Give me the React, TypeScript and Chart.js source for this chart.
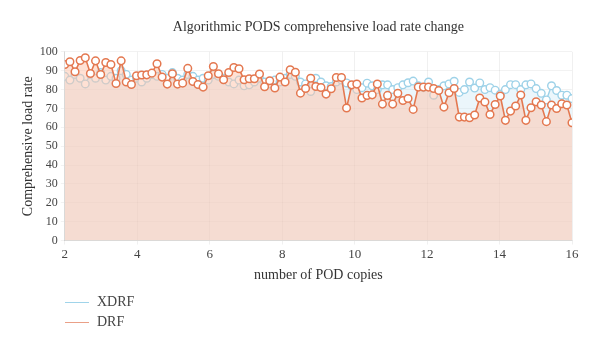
import React, { useEffect, useRef } from "react";
import { Chart, registerables } from "chart.js";

Chart.register(...registerables);

const TITLE = "Algorithmic PODS comprehensive load rate change";
const X_TITLE = "number of POD copies";
const Y_TITLE = "Comprehensive load rate";
const X_MIN = 2;
const X_MAX = 16;
const X_TICKS = [2, 4, 6, 8, 10, 12, 14, 16];
const Y_TICKS = [0, 10, 20, 30, 40, 50, 60, 70, 80, 90, 100];

const DRF = [
  93.3, 94.7, 89.4, 95.4, 96.8, 88.5, 95.2, 88, 94.3, 93.3, 83.2, 95.2, 84, 82.7, 87.3, 87.7,
  87.8, 88.7, 93.7, 86.6, 82.9, 88.4, 82.9, 83.4, 91.2, 84.3, 82.7, 81.3, 87.3, 92.2, 88.4, 85.2, 89,
  91.7, 91, 85.2, 85.7, 85.7, 88.2, 81.5, 84.7, 80.8, 86.6, 84, 90.5, 89.2, 78.1, 80.6, 86,
  81.6, 81.1, 77.6, 80.4, 86.4, 86.4, 70.2, 82.5, 82.9, 75.5, 76.9, 77.2, 82.9, 72.3, 76.9, 72.3, 78,
  74.2, 75.3, 69.5, 81.3, 81.3, 81.3, 80.6, 79.5, 70.7, 78.3, 80.6, 65.4, 65.4, 65.1, 66.5, 75.5,
  73.4, 66.8, 72.1, 76.6, 63.7, 68.6, 71.3, 77.1, 63.7, 70.4, 73.5, 71.8, 63, 71.8, 70, 72.5, 71.8, 62.4,
];

const XDRF = [
  87, 85, 88, 86, 83, 88, 86, 89, 85, 87, 86, 90, 88, 85, 86, 84,
  86, 88, 87, 88, 86, 89, 86, 85, 88, 87, 85, 86, 85, 88, 87, 86, 84,
  83, 85, 82, 82.5, 84, 86, 84, 83, 85, 84, 86, 88, 87, 84, 83, 79,
  86, 84, 82, 81.6, 84, 85, 83.5, 82, 80, 81, 83.4, 82, 80, 82.5, 82.5, 80, 81,
  82.5, 83.6, 84.5, 82, 81, 84, 77, 80, 82, 83, 84.4, 78.5, 80, 84, 80.8, 83.5,
  80, 81, 79.7, 77.5, 80, 82.6, 82.6, 80, 82.5, 83, 80.5, 78, 74.5, 82, 79.5, 77, 77, 75.2,
];

const FONT = "'Liberation Serif', 'DejaVu Serif', serif";
const DRF_COLOR = "rgb(228,120,80)";
const XDRF_COLOR = "rgb(158,210,232)";

function toPoints(values: number[]) {
  const n = values.length;
  return values.map((y, i) => ({ x: X_MIN + (i * (X_MAX - X_MIN)) / (n - 1), y }));
}

export default function App() {
  const ref = useRef<HTMLCanvasElement | null>(null);

  useEffect(() => {
    if (!ref.current) return;
    const chart = new Chart(ref.current, {
      type: "line",
      data: {
        datasets: [
          {
            label: "DRF",
            data: toPoints(DRF),
            borderColor: DRF_COLOR,
            backgroundColor: "rgba(255,195,170,0.5)",
            fill: "origin",
            borderWidth: 1.6,
            pointRadius: 3.8,
            pointBorderWidth: 1.5,
            pointBackgroundColor: "#ffffff",
            pointBorderColor: DRF_COLOR,
            tension: 0,
          },
          {
            label: "XDRF",
            data: toPoints(XDRF),
            borderColor: XDRF_COLOR,
            backgroundColor: "rgba(175,218,238,0.25)",
            fill: "origin",
            borderWidth: 1.4,
            pointRadius: 3.8,
            pointBorderWidth: 1.4,
            pointBackgroundColor: "#ffffff",
            pointBorderColor: XDRF_COLOR,
            tension: 0,
          },
        ],
      },
      options: {
        animation: false,
        responsive: false,
        maintainAspectRatio: false,
        layout: { padding: { left: 12, right: 20, top: 0, bottom: 54 } },
        plugins: {
          legend: { display: false },
          tooltip: { enabled: false },
          title: {
            display: true,
            text: TITLE,
            fullSize: false,
            color: "#333",
            font: { family: FONT, size: 14, weight: "normal" },
            padding: { top: 11, bottom: 16 },
          },
        },
        scales: {
          x: {
            type: "linear",
            min: X_MIN,
            max: X_MAX,
            afterBuildTicks: (axis: any) => {
              axis.ticks = X_TICKS.map((v) => ({ value: v }));
            },
            ticks: {
              color: "#444",
              font: { family: FONT, size: 13 },
              padding: 2,
              maxRotation: 0,
            },
            grid: { color: "rgba(0,0,0,0.06)", tickLength: 4 },
            border: { color: "rgba(0,0,0,0.1)" },
            title: {
              display: true,
              text: X_TITLE,
              color: "#333",
              font: { family: FONT, size: 14 },
              padding: { top: 3, bottom: 0 },
            },
          },
          y: {
            min: 0,
            max: 100,
            afterBuildTicks: (axis: any) => {
              axis.ticks = Y_TICKS.map((v) => ({ value: v }));
            },
            ticks: {
              color: "#444",
              font: { family: FONT, size: 12 },
              padding: 3,
            },
            grid: { color: "rgba(0,0,0,0.05)", tickLength: 4 },
            border: { color: "rgba(0,0,0,0.1)" },
            title: {
              display: true,
              text: Y_TITLE,
              color: "#333",
              font: { family: FONT, size: 14 },
              padding: { top: 0, bottom: 0 },
            },
          },
        },
      },
    });
    return () => chart.destroy();
  }, []);

  const legendItems = [
    { label: "XDRF", color: "rgb(160,212,234)" },
    { label: "DRF", color: "rgb(234,160,135)" },
  ];

  return (
    <div style={{ position: "relative", width: 584, height: 330 }}>
      <canvas ref={ref} width={584} height={330} style={{ display: "block" }} />
      <div style={{ position: "absolute", left: 57, top: 284 }}>
        {legendItems.map((it) => (
          <div
            key={it.label}
            style={{
              display: "flex",
              alignItems: "center",
              height: 20,
              fontFamily: FONT,
              fontSize: 14,
              color: "#444",
            }}
          >
            <span
              style={{
                display: "inline-block",
                width: 24,
                height: 1,
                background: it.color,
                marginRight: 8,
              }}
            />
            {it.label}
          </div>
        ))}
      </div>
    </div>
  );
}
